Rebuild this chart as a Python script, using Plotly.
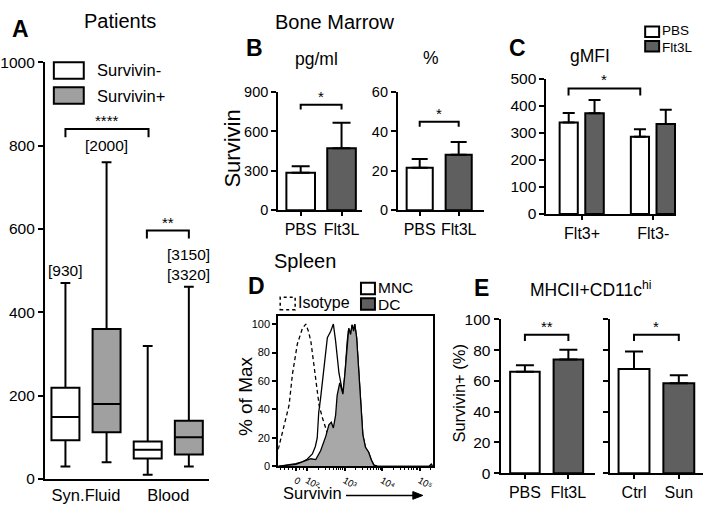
import math
import plotly.graph_objects as go

W, H = 708, 516
FONT = "Liberation Sans, Arial, sans-serif"
GRAY_BOX = "#a0a0a0"
GRAY_BAR = "#5f5f5f"
GRAY_HIST = "#a8a8a8"


def px(x):
    return x / W


def py(y):
    return 1 - y / H


# ---------------- data ----------------
# Panel A (box plots)
a_groups = ["Syn.Fluid", "Blood"]
a_neg_low = [30, 10]
a_neg_q1 = [93, 49]
a_neg_med = [149, 70]
a_neg_q3 = [219, 90]
a_neg_high = [470, 319]
a_pos_low = [40, 30]
a_pos_q1 = [112, 59]
a_pos_med = [180, 100]
a_pos_q3 = [360, 140]
a_pos_high = [760, 461]
a_max_labels = ["[930]", "[2000]", "[3150]<br>[3320]"]

# Panel B
b_cats = ["PBS", "Flt3L"]
b_pg = [285, 472]
b_pg_err = [49, 194]
b_pct = [21.6, 28.2]
b_pct_err = [4.4, 6.4]

# Panel C
c_cats = ["Flt3+", "Flt3-"]
c_pbs = [338, 285]
c_pbs_err = [35, 28]
c_flt = [372, 332]
c_flt_err = [49, 53]

# Panel D (histograms, x in display units: log10 scale, "0" at 1.7)
iso_x = [1.23, 1.26, 1.39, 1.52, 1.61, 1.74, 1.875, 1.965, 2.035, 2.10, 2.185, 2.27,
         2.32, 2.41, 2.50, 2.58, 2.67, 2.80, 2.98, 3.2]
iso_y = [12, 15.6, 29, 43, 65, 86, 97, 100, 95, 88, 70, 50,
         43, 34, 27, 20, 12, 4, 0.5, 0]
mnc_x = [1.23, 1.5, 1.70, 1.875, 2.0, 2.14, 2.22, 2.27, 2.31, 2.36, 2.45, 2.54, 2.63,
         2.70, 2.76, 2.85, 2.955, 3.01, 3.07, 3.11, 3.16, 3.20, 3.24, 3.27, 3.32,
         3.36, 3.40, 3.42, 3.485, 3.555, 3.64, 3.715, 3.78, 3.865, 4.5, 5.25, 5.31, 5.35]
mnc_y = [0, 1, 2, 3.2, 5, 8.8, 14, 20, 38, 48, 70, 90.5, 95,
         100, 88, 65.5, 51, 65.5, 88, 97, 92.7, 99.5, 95, 100, 90.5,
         74.6, 54, 42.9, 22.4, 13.4, 10, 4.3, 0.9, 0.2, 0, 0, 1.5, 0]
dc_x = [1.23, 1.26, 1.70, 1.965, 2.10, 2.23, 2.36, 2.50, 2.58, 2.645, 2.70, 2.76,
        2.80, 2.87, 2.92, 2.955, 3.01, 3.07, 3.11, 3.16, 3.20, 3.24, 3.27, 3.32,
        3.36, 3.40, 3.42, 3.485, 3.555, 3.64, 3.715, 3.78, 3.865, 4.5, 5.25, 5.31, 5.35]
dc_y = [0, 0.2, 1.4, 3.9, 5.4, 4.8, 11, 21.3, 29.3, 31, 27, 36,
        49.7, 58.7, 54, 50.8, 65.5, 88, 97, 92.7, 99.5, 95, 100, 90.5,
        74.6, 54, 42.9, 22.4, 13.4, 10, 4.3, 0.9, 0.2, 0, 0, 1.5, 0]
d_tickvals = [1.7, 2, 3, 4, 5]
d_ticktext = ["0", "10\u00b2", "10\u00b3", "10\u2074", "10\u2075"]

# Panel E
e_left_cats = ["PBS", "Flt3L"]
e_left = [66, 74]
e_left_err = [4.2, 6.3]
e_right_cats = ["Ctrl", "Sun"]
e_right = [67.7, 58.5]
e_right_err = [11.5, 5.2]

# ---------------- figure ----------------
fig = go.Figure()


def tf(size):
    return dict(family=FONT, size=size, color="black")


def ax(**kw):
    d = dict(showline=True, linecolor="black", linewidth=2, showgrid=False,
             zeroline=False, ticks="outside", ticklen=5, tickwidth=2,
             tickcolor="black", tickfont=tf(15), fixedrange=True)
    d.update(kw)
    return d


# A: boxes
fig.add_trace(go.Box(x=a_groups, q1=a_neg_q1, median=a_neg_med, q3=a_neg_q3,
                     lowerfence=a_neg_low, upperfence=a_neg_high, name="Survivin-",
                     fillcolor="white", line=dict(color="black", width=2),
                     whiskerwidth=0.35, offsetgroup="neg", showlegend=False,
                     xaxis="x", yaxis="y", boxpoints=False))
fig.add_trace(go.Box(x=a_groups, q1=a_pos_q1, median=a_pos_med, q3=a_pos_q3,
                     lowerfence=a_pos_low, upperfence=a_pos_high, name="Survivin+",
                     fillcolor=GRAY_BOX, line=dict(color="black", width=2),
                     whiskerwidth=0.35, offsetgroup="pos", showlegend=False,
                     xaxis="x", yaxis="y", boxpoints=False))


def bars(cats, vals, errs, xa, ya, width, cap, colors=("white", GRAY_BAR), offset=None, name=None):
    kw = {}
    if offset is not None:
        kw["offset"] = offset
    fig.add_trace(go.Bar(x=cats, y=vals, width=width, xaxis=xa, yaxis=ya,
                         marker=dict(color=list(colors) if len(colors) > 1 else colors[0],
                                     line=dict(color="black", width=2)),
                         error_y=dict(type="data", array=errs, arrayminus=[0] * len(errs),
                                      symmetric=False, color="black", thickness=2, width=cap),
                         showlegend=False, name=name, **kw))


bars(b_cats, b_pg, b_pg_err, "x2", "y2", 0.7, 9)
bars(b_cats, b_pct, b_pct_err, "x3", "y3", 0.67, 8)
bars(c_cats, c_pbs, c_pbs_err, "x4", "y4", 0.255, 6, colors=("white",), offset=-0.315, name="PBS")
bars(c_cats, c_flt, c_flt_err, "x4", "y4", 0.26, 6, colors=(GRAY_BAR,), offset=0.045, name="Flt3L")
bars(e_left_cats, e_left, e_left_err, "x6", "y6", 0.68, 9)
bars(e_right_cats, e_right, e_right_err, "x7", "y7", 0.69, 9)

# D: histograms
fig.add_trace(go.Scatter(x=mnc_x, y=mnc_y, mode="lines", fill="tozeroy", fillcolor="white",
                         line=dict(color="black", width=1.3), xaxis="x5", yaxis="y5",
                         showlegend=False, name="MNC"))
fig.add_trace(go.Scatter(x=iso_x, y=iso_y, mode="lines", line=dict(color="black", width=1.3, dash="4px,3px"),
                         xaxis="x5", yaxis="y5", showlegend=False, name="Isotype"))
fig.add_trace(go.Scatter(x=dc_x, y=dc_y, mode="lines", fill="tozeroy", fillcolor=GRAY_HIST,
                         line=dict(color="black", width=1.3), xaxis="x5", yaxis="y5",
                         showlegend=False, name="DC"))

minor_d = []
for k in (2, 3, 4):
    for m in range(2, 10):
        minor_d.append(k + math.log10(m))
minor_d += [1.3, 1.4, 1.5, 1.6, 1.8, 1.9, 5 + math.log10(2), 5 + math.log10(3)]

fig.update_layout(
    width=W, height=H, margin=dict(l=0, r=0, t=0, b=0),
    paper_bgcolor="white", plot_bgcolor="rgba(0,0,0,0)",
    font=dict(family=FONT, color="black"),
    boxmode="group", boxgap=0.0, boxgroupgap=0.32, barmode="overlay",
    xaxis=ax(domain=[px(45), px(210)], anchor="y", ticks="", tickfont=tf(16.5),
             range=[-0.5, 1.5]),
    yaxis=ax(domain=[py(486), py(55)], anchor="x", range=[0, 1000], dtick=200, tickfont=tf(15.5)),
    xaxis2=ax(domain=[px(279), px(363)], anchor="y2", range=[-0.55, 1.5], ticklen=4, tickfont=tf(16)),
    yaxis2=ax(domain=[py(208), py(86)], anchor="x2", range=[0, 900], tickvals=[0, 300, 600, 900], tickfont=tf(14.5)),
    xaxis3=ax(domain=[px(399), px(485)], anchor="y3", range=[-0.56, 1.64], ticklen=4, tickfont=tf(16)),
    yaxis3=ax(domain=[py(208), py(86)], anchor="x3", range=[0, 60], tickvals=[0, 20, 40, 60], tickfont=tf(14.5)),
    xaxis4=ax(domain=[px(548), px(678)], anchor="y4", range=[-0.5, 1.32], ticklen=4, tickfont=tf(16)),
    yaxis4=ax(domain=[py(212), py(72)], anchor="x4", range=[0, 500], dtick=100, tickfont=tf(15.5)),
    xaxis5=ax(domain=[px(279), px(434)], anchor="y5", range=[1.23, 5.35], tickvals=d_tickvals,
              ticktext=d_ticktext, ticklen=3, tickwidth=1.5, mirror=True, tickfont=tf(9.5),
              minor=dict(tickvals=minor_d, ticklen=2, ticks="outside", tickcolor="black", tickwidth=1)),
    yaxis5=ax(domain=[py(473), py(317)], anchor="x5", range=[0, 106], tickvals=[0, 20, 40, 60, 80, 100],
              ticklen=4, tickwidth=1.5, mirror=True, tickfont=tf(11)),
    xaxis6=ax(domain=[px(502), px(597)], anchor="y6", range=[-0.56, 1.62], ticklen=4, tickfont=tf(16)),
    yaxis6=ax(domain=[py(480), py(321)], anchor="x6", range=[0, 100], dtick=20, tickfont=tf(15.5)),
    xaxis7=ax(domain=[px(612), px(705)], anchor="y7", range=[-0.53, 1.54], ticklen=4, tickfont=tf(16)),
    yaxis7=ax(domain=[py(480), py(321)], anchor="x7", range=[0, 100], dtick=20, showticklabels=False),
)

shapes = []
annots = []


def bracket(xr, yr, x0, x1, ytop, ylow, stars, size=15):
    shapes.append(dict(type="path", xref=xr, yref=yr,
                       path=f"M {x0},{ylow} L {x0},{ytop} L {x1},{ytop} L {x1},{ylow}",
                       line=dict(color="black", width=2)))
    annots.append(dict(x=(x0 + x1) / 2, y=ytop, xref=xr, yref=yr, text=stars, showarrow=False,
                       yanchor="bottom", font=tf(size), yshift=-2))


# statistical brackets
bracket("x", "y", -0.25, 0.76, 840, 820, "****")
bracket("x", "y", 0.74, 1.25, 596, 577, "**")
bracket("x2", "y2", 0, 1, 804, 767, "*")
bracket("x3", "y3", 0, 1, 45, 42.4, "*")
bracket("x4", "y4", -0.19, 0.817, 464, 438, "*")
bracket("x6", "y6", 0, 1, 90, 86, "**")
bracket("x7", "y7", 0, 1, 90, 86, "*")

# max labels in A
annots.append(dict(x=-0.25, y=a_neg_high[0], xref="x", yref="y", text=a_max_labels[0], showarrow=False,
                   yanchor="bottom", font=tf(15.5), yshift=2))
annots.append(dict(x=0.25, y=a_pos_high[0], xref="x", yref="y", text=a_max_labels[1], showarrow=False,
                   yanchor="bottom", font=tf(15.5), yshift=6))
annots.append(dict(x=1.25, y=a_pos_high[1], xref="x", yref="y", text=a_max_labels[2], showarrow=False,
                   yanchor="bottom", font=tf(15.5), yshift=2))


def ptext(x, y, text, size, bold=False, xanchor="center", angle=0):
    t = f"<b>{text}</b>" if bold else text
    annots.append(dict(x=px(x), y=py(y), xref="paper", yref="paper", text=t, showarrow=False,
                       xanchor=xanchor, yanchor="middle", font=tf(size), textangle=angle,
                       borderpad=0))


# panel letters and titles
ptext(21, 21, "A", 23, bold=True)
ptext(255, 40, "B", 23, bold=True)
ptext(519, 40, "C", 23, bold=True)
ptext(257, 286, "D", 23, bold=True)
ptext(483, 288, "E", 23, bold=True)
ptext(120, 12, "Patients", 20)
ptext(335, 13, "Bone Marrow", 20)
ptext(317, 52, "pg/ml", 17.5)
ptext(432, 51, "%", 17.5)
ptext(592, 49, "gMFI", 17.5)
ptext(306, 261, "Spleen", 20)
ptext(593, 290, "MHCII+CD11c<sup>hi</sup>", 17.5)
ptext(233, 144, "Survivin", 22, angle=-90)
ptext(247, 400, "% of Max", 19, angle=-90)
ptext(460, 397, "Survivin+ (%)", 16.5, angle=-90)
ptext(313, 501, "Survivin", 16.5)

# arrow after the D axis title
shapes.append(dict(type="line", xref="paper", yref="paper", x0=px(347), x1=px(416), y0=py(503), y1=py(503),
                   line=dict(color="black", width=1.6)))
shapes.append(dict(type="path", xref="paper", yref="paper",
                   path=f"M {px(414)},{py(499)} L {px(424)},{py(503)} L {px(414)},{py(507)} Z",
                   fillcolor="black", line=dict(color="black", width=1)))


# legends
def lbox(x0, y0, x1, y1, color, dash="solid", lw=2):
    shapes.append(dict(type="rect", xref="paper", yref="paper", x0=px(x0), x1=px(x1),
                       y0=py(y1), y1=py(y0), fillcolor=color, line=dict(color="black", width=lw, dash=dash)))


lbox(54, 55, 84, 72, "white")
lbox(54, 81, 84, 98, GRAY_BOX)
ptext(96, 63, "Survivin-", 16.5, xanchor="left")
ptext(96, 90, "Survivin+", 16.5, xanchor="left")

lbox(647, 18, 661, 29, "white")
lbox(647, 33, 661, 44, GRAY_BAR)
ptext(663, 22.5, "PBS", 13.5, xanchor="left")
ptext(663, 40, "Flt3L", 13.5, xanchor="left")

lbox(281, 298, 296, 311, "white", dash="dot", lw=1.5)
ptext(298, 304, "Isotype", 16, xanchor="left")
lbox(362, 283, 376, 295, "white")
lbox(362, 299, 376, 311, GRAY_BAR)
ptext(378, 288, "MNC", 15.5, xanchor="left")
ptext(378, 306, "DC", 15.5, xanchor="left")

fig.update_layout(shapes=shapes, annotations=annots)
fig.write_html("out.html", config={"displayModeBar": False},
               post_script="document.body.style.margin='0';document.body.style.overflow='hidden';")
